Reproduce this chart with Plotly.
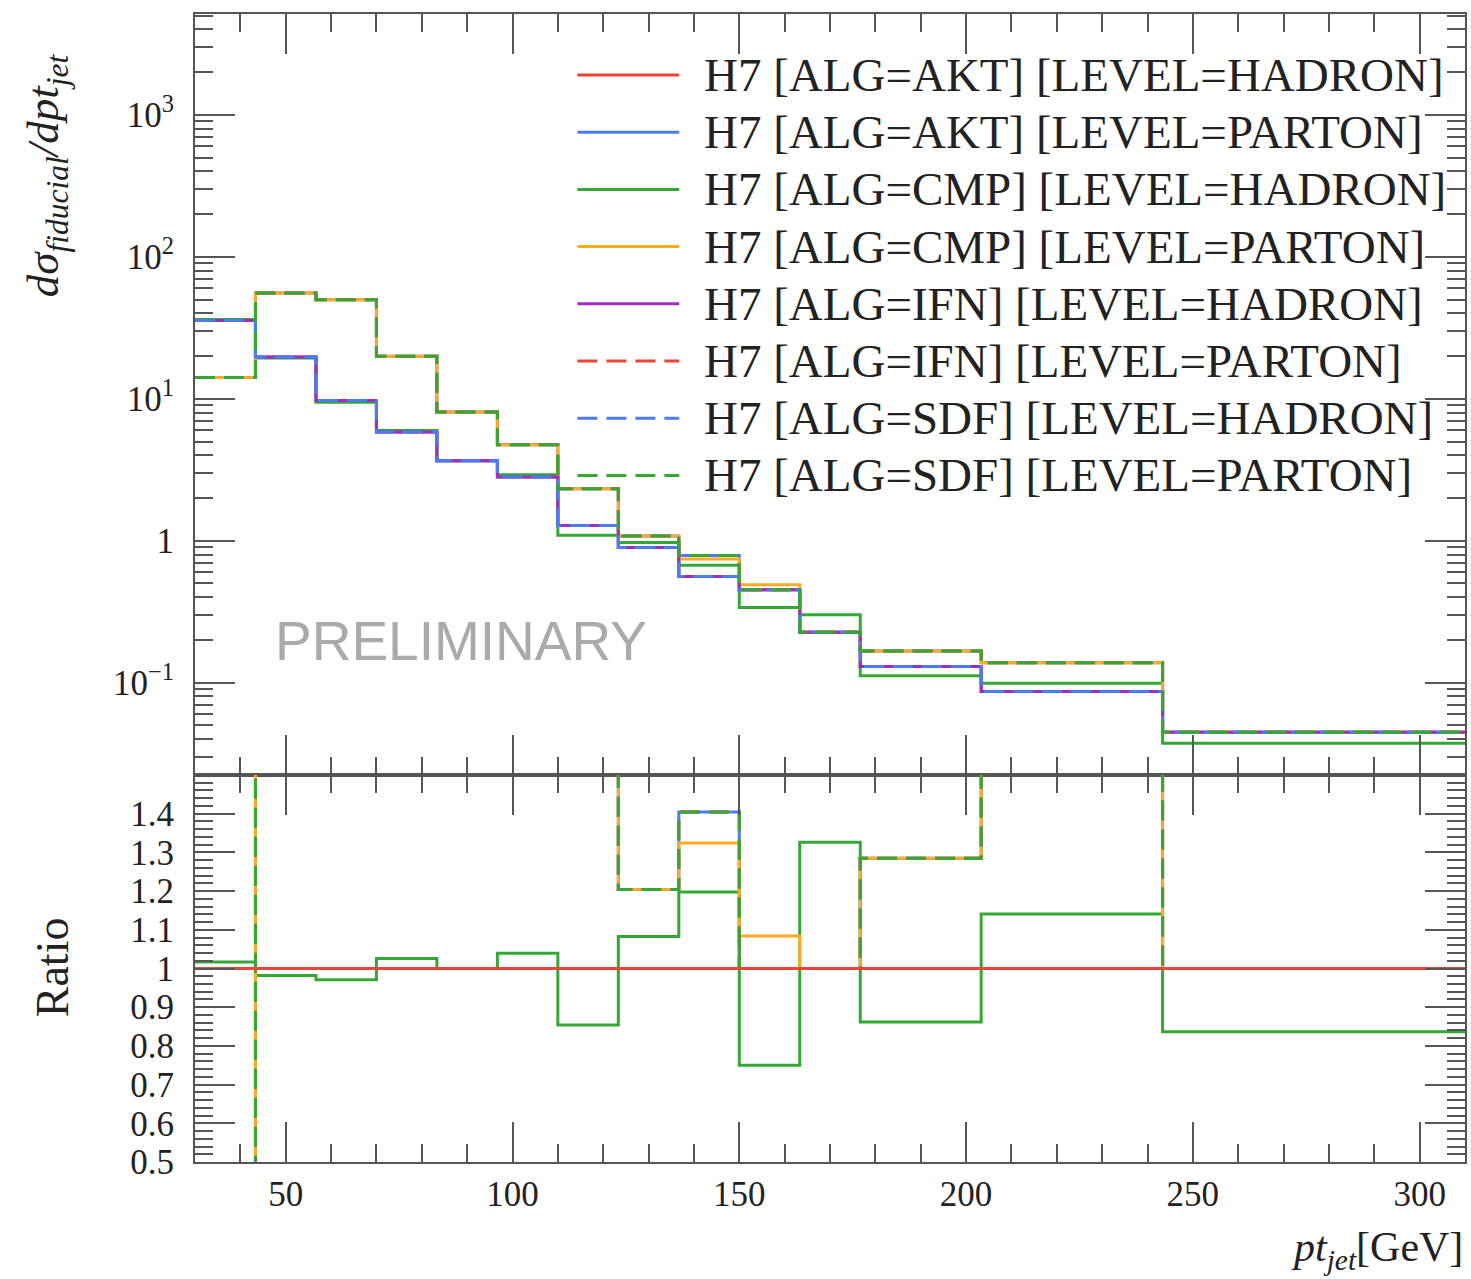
import numpy as np
import plotly.graph_objects as go

# ---------------- data ----------------
edges = [30, 43.33, 56.67, 70, 83.33, 96.67, 110, 123.33, 136.67, 150,
         163.33, 176.67, 203.33, 243.33, 310]

akt_hadron = [35.6, 19.7, 9.73, 5.83, 3.66, 2.81, 1.28, 0.897, 0.561, 0.452, 0.227, 0.130, 0.0868, 0.0447]
akt_parton = [14.1, 55.5, 49.8, 19.9, 8.06, 4.74, 2.32, 1.08, 0.788, 0.452, 0.227, 0.167, 0.138, 0.0447]
cmp_hadron = [36.2, 19.35, 9.45, 5.98, 3.66, 2.92, 1.093, 0.971, 0.672, 0.339, 0.301, 0.112, 0.099, 0.0374]
cmp_parton = [14.1, 55.5, 49.8, 19.9, 8.06, 4.74, 2.32, 1.08, 0.743, 0.49, 0.227, 0.167, 0.138, 0.0447]
ifn_hadron = [35.6, 19.7, 9.73, 5.83, 3.66, 2.81, 1.28, 0.897, 0.561, 0.452, 0.227, 0.130, 0.0868, 0.0447]
ifn_parton = [14.1, 55.5, 49.8, 19.9, 8.06, 4.74, 2.32, 1.08, 0.788, 0.452, 0.227, 0.167, 0.138, 0.0447]
sdf_hadron = [35.6, 19.7, 9.73, 5.83, 3.66, 2.81, 1.28, 0.897, 0.561, 0.452, 0.227, 0.130, 0.0868, 0.0447]
sdf_parton = [14.1, 55.5, 49.8, 19.9, 8.06, 4.74, 2.32, 1.08, 0.788, 0.452, 0.227, 0.167, 0.138, 0.0447]

labels = [
    "H7 [ALG=AKT] [LEVEL=HADRON]",
    "H7 [ALG=AKT] [LEVEL=PARTON]",
    "H7 [ALG=CMP] [LEVEL=HADRON]",
    "H7 [ALG=CMP] [LEVEL=PARTON]",
    "H7 [ALG=IFN] [LEVEL=HADRON]",
    "H7 [ALG=IFN] [LEVEL=PARTON]",
    "H7 [ALG=SDF] [LEVEL=HADRON]",
    "H7 [ALG=SDF] [LEVEL=PARTON]",
]
series = [akt_hadron, akt_parton, cmp_hadron, cmp_parton,
          ifn_hadron, ifn_parton, sdf_hadron, sdf_parton]

x_tick_vals = [50, 100, 150, 200, 250, 300]
y_tick_vals = [0.1, 1, 10, 100, 1000]
y_tick_text = ["10<sup>−1</sup>", "1", "10<sup>1</sup>", "10<sup>2</sup>", "10<sup>3</sup>"]
r_tick_vals = [0.5, 0.6, 0.7, 0.8, 0.9, 1.0, 1.1, 1.2, 1.3, 1.4]
r_tick_text = ["0.5", "0.6", "0.7", "0.8", "0.9", "1", "1.1", "1.2", "1.3", "1.4"]

# ---------------- styles ----------------
RED, BLUE, GREEN, ORANGE, PURPLE = "#EE4433", "#4A7BFF", "#33A833", "#FFAA22", "#9B30C0"
DASH = "20px,9px"
styles = [
    (RED, "solid"), (BLUE, "solid"), (GREEN, "solid"), (ORANGE, "solid"),
    (PURPLE, "solid"), (RED, DASH), (BLUE, DASH), (GREEN, DASH),
]
LW = 3
SERIF = "Liberation Serif"

W, H = 1471, 1279
L, R, T, B = 195, 4, 14, 117
PW, PH = W - L - R, H - T - B
SPLIT = 775  # pixel y of panel boundary
ratio_frac = (H - B - SPLIT) / PH


def px(xp):
    return (xp - L) / PW


def py(yp):
    return (H - B - yp) / PH


fig = go.Figure()

ref = np.array(akt_hadron)
xs = list(edges)
for vals, name, (col, dash) in zip(series, labels, styles):
    v = list(vals) + [vals[-1]]
    fig.add_trace(go.Scatter(x=xs, y=v, mode="lines", line=dict(color=col, width=LW, dash=dash, shape="hv"),
                             name=name, showlegend=False, xaxis="x", yaxis="y"))

# ratio panel: reference drawn last
order = list(range(1, len(series))) + [0]
for i in order:
    vals = np.array(series[i]) / ref
    v = list(vals) + [vals[-1]]
    col, dash = styles[i]
    fig.add_trace(go.Scatter(x=xs, y=v, mode="lines", line=dict(color=col, width=LW, dash=dash, shape="hv"),
                             showlegend=False, xaxis="x2", yaxis="y2"))

axcol = "#555555"
tickfont = dict(family=SERIF, size=35, color="#222222")
common_x = dict(range=[30, 310], showline=True, linecolor=axcol, linewidth=2, mirror="allticks",
                ticks="inside", ticklen=40, tickwidth=1.5, tickcolor=axcol,
                tickvals=x_tick_vals, showgrid=False, zeroline=False,
                minor=dict(ticks="inside", ticklen=18, tickwidth=1.5, tickcolor=axcol, dtick=10, showgrid=False))

fig.update_layout(
    width=W, height=H,
    margin=dict(l=L, r=R, t=T, b=B),
    plot_bgcolor="white", paper_bgcolor="white",
    showlegend=False,
    xaxis=dict(**common_x, domain=[0, 1], anchor="y", showticklabels=False, matches="x2"),
    xaxis2=dict(**common_x, domain=[0, 1], anchor="y2", showticklabels=True,
                ticktext=[str(v) for v in x_tick_vals], tickfont=tickfont),
    yaxis=dict(type="log", range=[-1.65, 3.71], domain=[ratio_frac, 1], anchor="x",
               showline=True, linecolor=axcol, linewidth=2, mirror="allticks",
               ticks="inside", ticklen=40, tickwidth=1.5, tickcolor=axcol,
               tickvals=y_tick_vals, ticktext=y_tick_text, tickfont=tickfont,
               ticklabelstandoff=12,
               showgrid=False, zeroline=False,
               minor=dict(ticks="inside", ticklen=18, tickwidth=1.5, tickcolor=axcol, dtick="D1", showgrid=False)),
    yaxis2=dict(range=[0.5, 1.5], domain=[0, ratio_frac], anchor="x2",
                showline=True, linecolor=axcol, linewidth=2, mirror="allticks",
                ticks="inside", ticklen=40, tickwidth=1.5, tickcolor=axcol,
                tickvals=r_tick_vals, ticktext=r_tick_text, tickfont=tickfont,
                ticklabelstandoff=12,
                showgrid=False, zeroline=False,
                minor=dict(ticks="inside", ticklen=18, tickwidth=1.5, tickcolor=axcol, dtick=0.02, showgrid=False)),
)

# manual legend
row0, row_step = 75, 57.2
for k, (name, (col, dash)) in enumerate(zip(labels, styles)):
    yy = row0 + k * row_step
    fig.add_shape(type="line", xref="paper", yref="paper",
                  x0=px(578), x1=px(680), y0=py(yy), y1=py(yy),
                  line=dict(color=col, width=LW, dash=dash))
    fig.add_annotation(xref="paper", yref="paper", x=px(703), y=py(yy), text=name,
                       showarrow=False, xanchor="left", yanchor="middle",
                       font=dict(family=SERIF, size=47, color="#222222"))

# labels
fig.add_annotation(xref="paper", yref="paper", x=px(46), y=py(175),
                   text="<i>dσ<sub>fiducial</sub>/dpt<sub>jet</sub></i>", textangle=-90,
                   showarrow=False, xanchor="center", yanchor="middle",
                   font=dict(family=SERIF, size=45, color="#222222"))
fig.add_annotation(xref="paper", yref="paper", x=px(52), y=py(967),
                   text="Ratio", textangle=-90,
                   showarrow=False, xanchor="center", yanchor="middle",
                   font=dict(family=SERIF, size=46, color="#222222"))
fig.add_annotation(xref="paper", yref="paper", x=px(1467), y=py(1250),
                   text="<i>pt<sub>jet</sub></i>[GeV]",
                   showarrow=False, xanchor="right", yanchor="middle",
                   font=dict(family=SERIF, size=42, color="#222222"))
fig.add_annotation(xref="paper", yref="paper", x=px(461), y=py(641),
                   text="PRELIMINARY",
                   showarrow=False, xanchor="center", yanchor="middle",
                   font=dict(family="Liberation Sans", size=55, color="#AAAAAA"))

fig.write_html("out.html")
